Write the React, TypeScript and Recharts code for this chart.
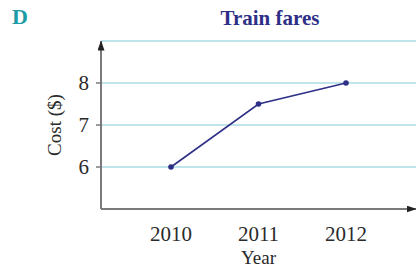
import React from 'react';
import { LineChart, Line, XAxis, YAxis, CartesianGrid } from 'recharts';

const years = [2010, 2011, 2012];
const fares = [6, 7.5, 8];
const yTicks = [6, 7, 8];
const gridValues = [6, 7, 8, 9];

const data = years.map((year, i) => ({ year, cost: fares[i] }));

const serif = '"Liberation Serif", "Times New Roman", serif';
const axisGrey = '#7a7a7a';
const navy = '#2e3088';

const App: React.FC = () => {
  return (
    <div style={{ position: 'absolute', left: 0, top: 0, width: 416, height: 271, background: '#fff' }}>
      <div
        style={{
          position: 'absolute',
          left: 12,
          top: 4,
          fontFamily: serif,
          fontWeight: 'bold',
          fontSize: 22,
          color: '#1b9ba6',
        }}
      >
        D
      </div>
      <div
        style={{
          position: 'absolute',
          left: 170,
          width: 200,
          top: 6,
          textAlign: 'center',
          fontFamily: serif,
          fontWeight: 'bold',
          fontSize: 21,
          color: navy,
        }}
      >
        Train fares
      </div>
      <LineChart
        width={416}
        height={271}
        data={data}
        margin={{ top: 41, right: 0, bottom: 0, left: 0 }}
        style={{ position: 'absolute', left: 0, top: 0 }}
      >
        <defs>
          <marker
            id="arrow"
            viewBox="0 0 10 7"
            refX="9.5"
            refY="3.5"
            markerWidth="5"
            markerHeight="3.5"
            orient="auto-start-reverse"
            markerUnits="strokeWidth"
          >
            <path d="M0,0 L10,3.5 L0,7 z" fill="#222" />
          </marker>
        </defs>
        <CartesianGrid
          vertical={false}
          horizontalValues={gridValues}
          stroke="#acdbe4"
          strokeWidth={1.5}
        />
        <XAxis
          dataKey="year"
          type="number"
          domain={[2009.2, 2012.8]}
          ticks={years}
          height={62}
          tickLine={false}
          tickMargin={11}
          axisLine={{ stroke: axisGrey, strokeWidth: 2, markerEnd: 'url(#arrow)' }}
          tick={{ fill: '#2a2a2a', fontFamily: serif, fontSize: 21 }}
          label={{
            value: 'Year',
            position: 'center',
            dy: 17,
            fill: '#2a2a2a',
            fontFamily: serif,
            fontSize: 19,
          }}
        />
        <YAxis
          type="number"
          domain={[5, 9]}
          ticks={yTicks}
          width={101}
          tickSize={5}
          tickMargin={7}
          tickLine={{ stroke: axisGrey, strokeWidth: 1.5 }}
          axisLine={{ stroke: axisGrey, strokeWidth: 2, markerStart: 'url(#arrow)' }}
          tick={{ fill: '#2a2a2a', fontFamily: serif, fontSize: 21 }}
          label={{
            value: 'Cost ($)',
            angle: -90,
            position: 'center',
            dx: 4,
            fill: '#2a2a2a',
            fontFamily: serif,
            fontSize: 19,
          }}
        />
        <Line
          dataKey="cost"
          type="linear"
          stroke={navy}
          strokeWidth={1.6}
          dot={{ r: 2.8, fill: navy, stroke: navy, strokeWidth: 0 }}
          isAnimationActive={false}
        />
      </LineChart>
    </div>
  );
};

export default App;
